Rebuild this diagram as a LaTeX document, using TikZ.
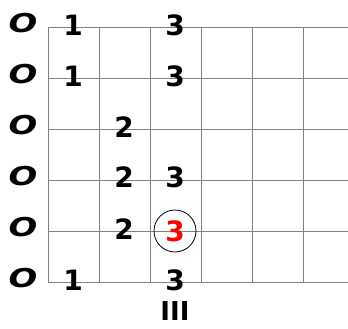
\documentclass[tikz,border=0pt]{standalone}
\usepackage{fontspec}
\setmainfont{DejaVu Sans}

\tikzset{
  fret/.style={gray, line width=0.9pt},
  finger/.style={font=\fontsize{28}{28}\selectfont\bfseries, inner sep=0pt},
  openstr/.style={font=\fontsize{26}{26}\selectfont\bfseries\itshape, inner sep=0pt, xscale=1.3}
}

\begin{document}
\begin{tikzpicture}[x=1pt, y=-1pt]
  \useasboundingbox (0,0) rectangle (348,329);
  % frets and strings
  \foreach \x in {48,99,150,201,252,303}
    \draw[fret] (\x,27) -- (\x,282);
  \foreach \y in {27,78,129,180,231,282}
    \draw[fret] (48,\y) -- (348,\y);
  % open strings
  \foreach \y [count=\i] in {27,78,129,180,231,282}
    \node[openstr] (open\i) at (23,\y-4) {O};
  % fingers
  \node[finger] (fa1) at (73,25) {1};
  \node[finger] (fa3) at (175,25) {3};
  \node[finger] (fb1) at (73,76) {1};
  \node[finger] (fb3) at (175,76) {3};
  \node[finger] (fc2) at (124,127) {2};
  \node[finger] (fd2) at (124,177) {2};
  \node[finger] (fd3) at (175,177) {3};
  \node[finger] (fe2) at (124,229) {2};
  \node[finger, text=red, circle, draw=black, line width=0.8pt, minimum size=42pt] (root) at (175,231) {3};
  \node[finger] (ff1) at (73,280) {1};
  \node[finger] (ff3) at (175,280) {3};
  % position
  \node[finger, font=\fontsize{26}{26}\selectfont\bfseries] (pos) at (175,311) {III};
\end{tikzpicture}
\end{document}
